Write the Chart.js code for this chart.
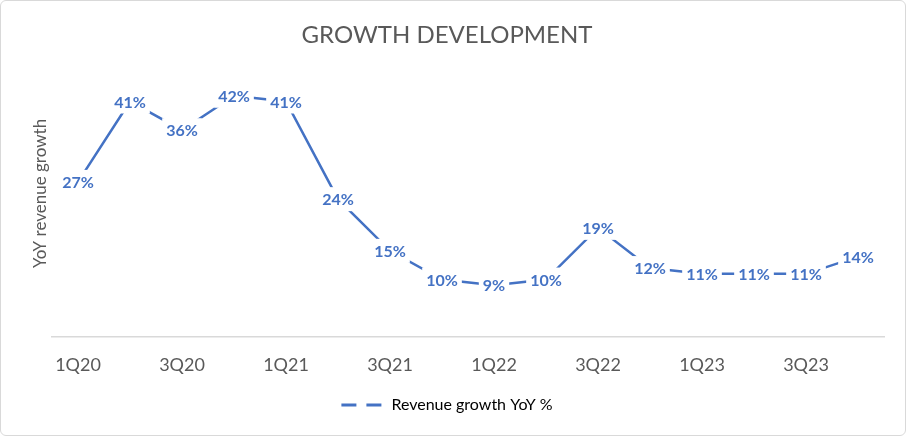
<!DOCTYPE html>
<html>
<head>
<meta charset="utf-8">
<title>Growth development</title>
<script src="https://cdn.jsdelivr.net/npm/chart.js@4.4.1/dist/chart.umd.min.js"></script>
<style>
  html, body { margin: 0; padding: 0; background: #fff; }
  #wrap {
    width: 906px; height: 436px; box-sizing: border-box;
    border: 1px solid #d9d9d9; border-radius: 6px; overflow: hidden;
  }
</style>
</head>
<body>
<div id="wrap"><canvas id="chart" width="904" height="434"></canvas></div>
<script>
  // quarters and YoY growth (%)
  var quarters = ['1Q20', '2Q20', '3Q20', '4Q20', '1Q21', '2Q21', '3Q21', '4Q21',
                  '1Q22', '2Q22', '3Q22', '4Q22', '1Q23', '2Q23', '3Q23', '4Q23'];
  var growth = [27, 41, 36, 42, 41, 24, 15, 10, 9, 10, 19, 12, 11, 11, 11, 14];
  var seriesName = 'Revenue growth YoY %';

  var blue = '#4472C4';
  var grey = '#595959';
  var fontFamily = 'Lato, "Open Sans", sans-serif';

  // labels sit on the points with a white box that hides the line behind them
  var pointLabels = {
    id: 'pointLabels',
    afterDatasetsDraw: function (chart) {
      var ctx = chart.ctx;
      var meta = chart.getDatasetMeta(0);
      ctx.save();
      ctx.font = 'bold 16px ' + fontFamily;
      ctx.textAlign = 'center';
      ctx.textBaseline = 'middle';
      meta.data.forEach(function (pt, i) {
        var txt = growth[i] + '%';
        var w = ctx.measureText(txt).width + 8;
        var h = 24;
        ctx.fillStyle = '#fff';
        ctx.fillRect(pt.x - w / 2, pt.y - h / 2, w, h);
        ctx.fillStyle = blue;
        ctx.fillText(txt, pt.x, pt.y + 1);
      });
      ctx.restore();
    }
  };

  new Chart(document.getElementById('chart'), {
    type: 'line',
    data: {
      labels: quarters,
      datasets: [{
        label: seriesName,
        data: growth,
        borderColor: blue,
        borderWidth: 2.5,
        pointRadius: 0,
        tension: 0
      }]
    },
    options: {
      responsive: false,
      animation: false,
      layout: { padding: { left: 9, right: 21, top: 0, bottom: 12 } },
      plugins: {
        title: {
          display: true,
          text: 'GROWTH DEVELOPMENT',
          color: grey,
          font: { family: fontFamily, size: 24, weight: 'normal' },
          padding: { top: 20, bottom: 0 }
        },
        legend: {
          position: 'bottom',
          labels: {
            color: grey,
            font: { family: fontFamily, size: 16 },
            usePointStyle: true,
            pointStyleWidth: 42,
            padding: 10,
            generateLabels: function () {
              return [{
                text: seriesName,
                strokeStyle: blue,
                fillStyle: blue,
                lineWidth: 3,
                lineDash: [15, 10],
                pointStyle: 'line',
                datasetIndex: 0
              }];
            }
          }
        },
        tooltip: { enabled: false }
      },
      scales: {
        x: {
          offset: true,
          grid: { display: false, drawTicks: false },
          border: { display: true, color: '#d9d9d9', width: 1.5 },
          ticks: {
            color: grey,
            font: { family: fontFamily, size: 18 },
            padding: 17,
            autoSkip: false,
            maxRotation: 0,
            callback: function (val, i) {
              return i % 2 === 0 ? quarters[i] : '';
            }
          },
          afterFit: function (scale) { scale.height = 50; }
        },
        y: {
          min: 0,
          max: 50,
          grid: { display: false },
          border: { display: false },
          ticks: { display: false },
          title: {
            display: true,
            text: 'YoY revenue growth',
            color: grey,
            font: { family: fontFamily, size: 17 },
            padding: { top: 20, bottom: 0 }
          },
          afterFit: function (scale) { scale.width = 42; }
        }
      }
    },
    plugins: [pointLabels]
  });
</script>
</body>
</html>
